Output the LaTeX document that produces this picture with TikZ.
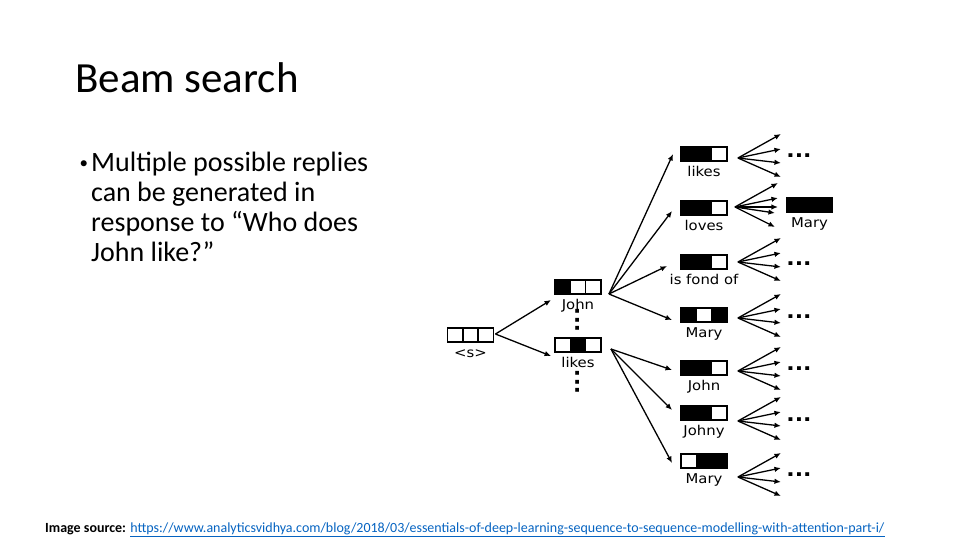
\documentclass[tikz,border=0pt]{standalone}
\usepackage{fontspec}
\setmainfont{Carlito}
\newfontfamily\diagfont[FakeStretch=1.1]{DejaVu Sans}
\usetikzlibrary{positioning,arrows.meta}
\definecolor{linkblue}{RGB}{5,99,193}
\tikzset{
	cell/.style={draw, line width=1.5pt, minimum width=15.3pt, minimum height=14pt, inner sep=0pt, outer sep=0pt},
	lbl/.style={font=\diagfont\fontsize{13.5}{15}\selectfont, inner sep=0pt},
	dots/.style={font=\diagfont\bfseries\fontsize{20}{22}\selectfont, inner sep=0pt},
	arr/.style={-{Latex[length=6.5pt,width=5.5pt]}, line width=1.3pt}
}
% one word: three cells, the word under them
\newcommand{\tok}[7]{%
	\node[cell, fill=#5] (#12) at (#2,#3) {};
	\node[cell, fill=#4, left=0pt of #12] (#11) {};
	\node[cell, fill=#6, right=0pt of #12] (#13) {};
	\node[lbl, anchor=base] (#1l) at ([yshift=-22pt]#12.center) {#7};
}

\begin{document}
\begin{tikzpicture}[x=1pt,y=-1pt,
	txt/.style={inner sep=0pt}
	]
	\useasboundingbox (0,0) rectangle (960,540);
	\node[txt, anchor=base west, font=\fontsize{43}{50}\selectfont] (title) at (75,93) {Beam search};
	\node[txt, anchor=north west, font=\fontsize{28}{30}\selectfont] (bullets) at (78,150)
		{\begin{tabular}{@{}p{13pt}@{}l@{}}
			\hspace{1.5pt}{\fontsize{17}{20}\selectfont\raisebox{2.5pt}{•}} & Multiple possible replies\\
			& can be generated in\\
			& response to “Who does\\
			& John like?”
		\end{tabular}};
	\node[txt, anchor=base west, font=\fontsize{14}{16}\selectfont] (source) at (45,532)
		{\textbf{Image source:} \textcolor{linkblue}{\underline{https://www.analyticsvidhya.com/blog/2018/03/essentials-of-deep-learning-sequence-to-sequence-modelling-with-attention-part-i/}}};

	% the beam
	\tok{s}{470.5}{335}{white}{white}{white}{<s>}
	\tok{john}{578}{287}{black}{white}{white}{John}
	\tok{likes}{578}{345}{white}{black}{white}{likes}
	\tok{likesB}{704}{154}{black}{black}{white}{likes}
	\tok{loves}{704}{208}{black}{black}{white}{loves}
	\tok{fond}{704}{262}{black}{black}{white}{is fond of}
	\tok{mary}{704}{315}{black}{white}{black}{Mary}
	\tok{johnB}{704}{368}{black}{black}{white}{John}
	\tok{johny}{704}{413}{black}{black}{white}{Johny}
	\tok{maryB}{704}{461}{white}{black}{black}{Mary}
	\tok{maryC}{809.5}{205}{black}{black}{black}{Mary}

	\node[dots, rotate=90] (vdA) at (578,320) {...};
	\node[dots, rotate=90] (vdB) at (578,382) {...};
	\node[dots] (hdA) at (799,156) {...};
	\node[dots] (hdB) at (799,264) {...};
	\node[dots] (hdC) at (799,317) {...};
	\node[dots] (hdD) at (799,369) {...};
	\node[dots] (hdE) at (799,420) {...};
	\node[dots] (hdF) at (799,475) {...};

	\path[arr]
		([xshift=2pt,yshift=1pt]s3.east) edge ([xshift=-4pt,yshift=-13pt]john1.west)
		([xshift=2pt,yshift=1pt]s3.east) edge ([xshift=-4pt,yshift=-11pt]likes1.west);
	\path[arr]
		([xshift=8pt,yshift=-7pt]john3.east) edge ([xshift=-8pt]likesB1.west)
		([xshift=8pt,yshift=-7pt]john3.east) edge ([xshift=-9pt,yshift=-3pt]loves1.west)
		([xshift=8pt,yshift=-7pt]john3.east) edge ([xshift=-14pt,yshift=-4pt]fond1.west)
		([xshift=8pt,yshift=-7pt]john3.east) edge ([xshift=-9pt,yshift=-5pt]mary1.west);
	\path[arr]
		([xshift=10pt,yshift=-4pt]likes3.east) edge ([xshift=-9pt,yshift=-2pt]johnB1.west)
		([xshift=10pt,yshift=-4pt]likes3.east) edge ([xshift=-9pt,yshift=3pt]johny1.west)
		([xshift=10pt,yshift=-4pt]likes3.east) edge ([xshift=-9pt,yshift=-2pt]maryB1.west);

	% fans to the next step
	\foreach \n/\dy in {likesB/-4, fond/0, mary/-3, johnB/-3, johny/-8, maryB/-16}
		\foreach \t in {-24,-9,5,19}
			\draw[arr] ([xshift=11pt,yshift=\dy pt]\n3.east) -- ++(43,\t);
	\foreach \t/\l in {-24/43,-9/43,0/43,6/40,20/40}
		\draw[arr] ([xshift=8pt,yshift=1pt]loves3.east) -- ++(\l,\t);
\end{tikzpicture}
\end{document}
